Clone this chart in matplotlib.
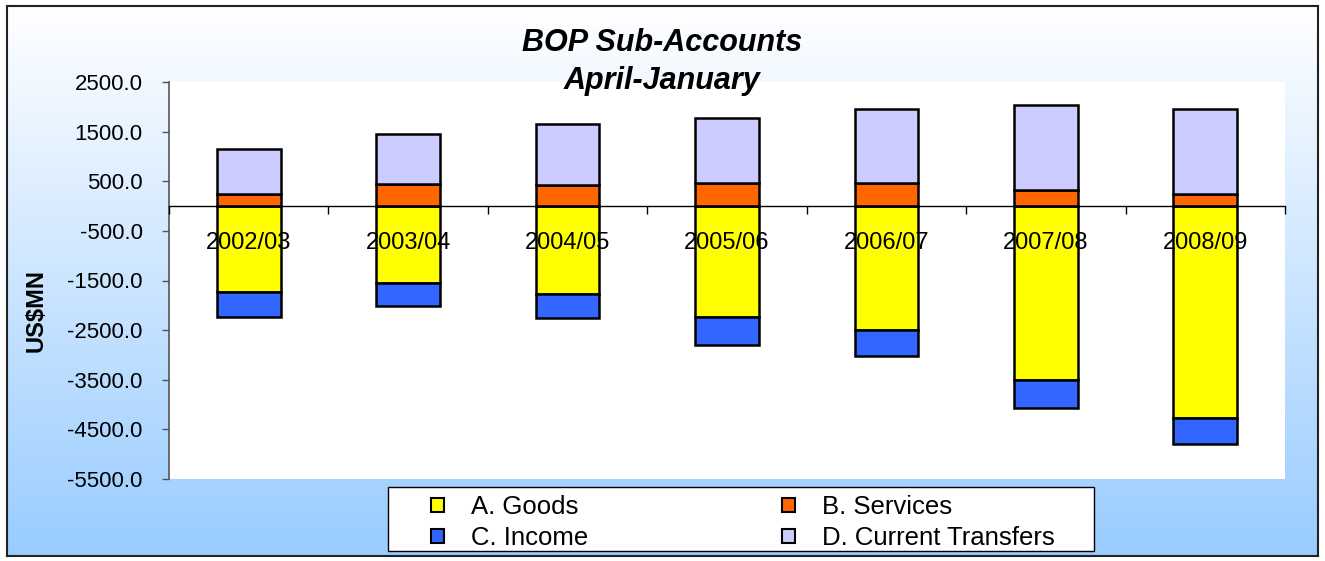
import numpy as np
import matplotlib
matplotlib.use("Agg")
import matplotlib.pyplot as plt
from matplotlib.patches import Rectangle
from matplotlib.ticker import FormatStrFormatter, FixedLocator

plt.rcParams['font.family'] = ['Liberation Sans', 'DejaVu Sans']

categories = ["2002/03", "2003/04", "2004/05", "2005/06", "2006/07", "2007/08", "2008/09"]
goods = [-1730, -1550, -1770, -2245, -2505, -3500, -4280]
services = [250, 450, 420, 460, 470, 315, 240]
income = [-500, -470, -495, -545, -510, -565, -510]
transfers = [895, 1010, 1240, 1310, 1480, 1715, 1710]
yticks = [-5500, -4500, -3500, -2500, -1500, -500, 500, 1500, 2500]

W, H = 1325, 561
fig = plt.figure(figsize=(W / 100, H / 100), dpi=100)
fig.patch.set_facecolor('white')

# background gradient
bg = fig.add_axes([7 / W, 1 - 556 / H, 1311 / W, 550 / H])
grad = np.linspace(0, 1, 256)[:, None]
top = np.array([1.0, 1.0, 1.0])
bot = np.array([153, 204, 255]) / 255
img = top[None, None, :] * (1 - grad[:, :, None]) + bot[None, None, :] * grad[:, :, None]
bg.imshow(img, aspect='auto', extent=[0, 1, 0, 1])
bg.set_xlim(0, 1)
bg.set_ylim(0, 1)
bg.set_xticks([])
bg.set_yticks([])
for s in bg.spines.values():
    s.set_color('#222222')
    s.set_linewidth(1.5)

ax = fig.add_axes([169 / W, 1 - 479 / H, 1116 / W, 397 / H])
ax.set_facecolor('white')

x = np.arange(len(categories))
w = 0.4
ek = dict(edgecolor='black', linewidth=1.8, width=w, zorder=3)
ax.bar(x, goods, color='#FFFF00', label='A. Goods', **ek)
ax.bar(x, income, bottom=goods, color='#3366FF', label='C. Income', **ek)
ax.bar(x, services, color='#FF6600', label='B. Services', **ek)
ax.bar(x, transfers, bottom=services, color='#CCCCFF', label='D. Current Transfers', **ek)

ax.set_xlim(-0.5, len(categories) - 0.5)
ax.set_ylim(-5500, 2500)
ax.set_yticks(yticks)
ax.yaxis.set_major_formatter(FormatStrFormatter('%.1f'))
ax.tick_params(axis='y', labelsize=16, length=5, width=1, color='#555555', pad=14)

ax.spines['top'].set_visible(False)
ax.spines['right'].set_visible(False)
ax.spines['left'].set_color('#555555')
ax.spines['left'].set_linewidth(1.2)
ax.spines['bottom'].set_position(('data', 0))
ax.spines['bottom'].set_color('black')
ax.spines['bottom'].set_linewidth(1.0)
ax.spines['bottom'].set_zorder(4)

ax.set_xticks(x)
ax.set_xticklabels(categories)
ax.xaxis.set_minor_locator(FixedLocator(np.arange(-0.5, len(categories), 1.0)))
ax.tick_params(axis='x', which='major', length=0, labelsize=17, pad=19)
ax.tick_params(axis='x', which='minor', length=6, width=1, direction='out', color='black')
ax.xaxis.set_zorder(5)

fig.text(662 / W, 1 - 62 / H, 'BOP Sub-Accounts\nApril-January', ha='center', va='center',
         fontsize=22, fontweight='bold', fontstyle='italic', linespacing=1.38)
fig.text(36 / W, 1 - 310 / H, 'US$MN', rotation=90, ha='center', va='center',
         fontsize=17, fontweight='bold')

# legend box
fig.patches.append(Rectangle((388 / W, 1 - 551 / H), 706 / W, 64 / H, transform=fig.transFigure,
                             facecolor='white', edgecolor='black', linewidth=1.0, zorder=5))
handles, labels = ax.get_legend_handles_labels()
leg = fig.legend(handles, labels, ncol=2,
                 loc='upper left', bbox_to_anchor=(431 / W, 1 - 495 / H),
                 frameon=False, fontsize=18.5, borderpad=0, borderaxespad=0,
                 handlelength=0.5, handleheight=0.5, handletextpad=1.05,
                 columnspacing=7.55, labelspacing=0.28)
leg.set_zorder(6)
for hnd in leg.legend_handles:
    hnd.set_linewidth(1.5)

fig.savefig('out.png', dpi=100)
